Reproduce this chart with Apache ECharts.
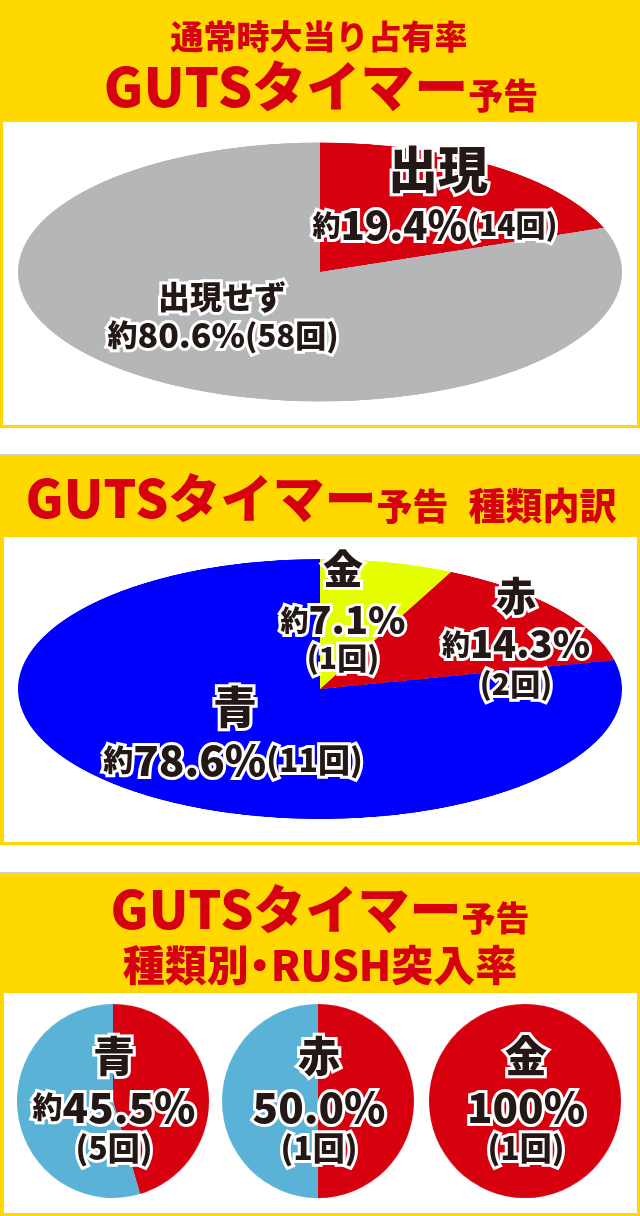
<!DOCTYPE html>
<html><head><meta charset="utf-8">
<script src="https://cdn.jsdelivr.net/npm/echarts@6/dist/echarts.min.js"></script>
<style>
html,body{margin:0;padding:0;background:#fff;}
#page{position:relative;width:640px;height:1216px;overflow:hidden;}
.layer{position:absolute;}
</style></head><body>
<div id="page">
  <div id="bg" class="layer" style="left:0;top:0;width:640px;height:1216px"></div>
  <div id="pies"></div>
  <div id="fg" class="layer" style="left:0;top:0;width:640px;height:1216px;pointer-events:none"></div>
</div>
<script>
// ---------- data ----------
const shareNames = ['出現', '出現せず'];
const shareCounts = [14, 58];
const sharePct = ['19.4', '80.6'];

const typeNames = ['金', '赤', '青'];
const typeCounts = [1, 2, 11];
const typePct = ['7.1', '14.3', '78.6'];

const rushNames = ['青', '赤', '金'];
const rushHits = [5, 1, 1];
const rushMisses = [6, 1, 0];
const rushPct = ['45.5', '50.0', '100'];
const rushApprox = [true, false, false];

const titleShare = ['通常時大当り占有率', 'GUTSタイマー', '予告'];
const titleType = ['GUTSタイマー', '予告', '種類内訳'];
const titleRush = ['GUTSタイマー', '予告', '種類別・RUSH突入率'];

// ---------- style ----------
const FF = '"Noto Sans CJK JP","Noto Sans CJK SC",sans-serif';
const RED = '#d7000f';
const YEL = '#ffd800';
const shareColors = [RED, '#b5b6b8'];
const typeColors = ['#e5ff00', RED, '#0000ff'];
const rushColors = [RED, '#5ab3d6'];

function tok(size, color, stroke) {
  const t = {fontSize: size, fontFamily: FF, fontWeight: 900, fill: color || '#231815'};
  if (stroke !== false) { t.stroke = '#fff'; t.lineWidth = 6; }
  return t;
}
function label(x, y, text, rich) {
  return {type: 'text', x: x, y: y, z: 10, silent: true,
    style: {text: text, rich: rich, align: 'center', verticalAlign: 'middle', fontFamily: FF, fontWeight: 900}};
}

// ---------- background panels + titles ----------
const bg = echarts.init(document.getElementById('bg'), null, {renderer: 'canvas'});
const rushSub = titleRush[2].split('・');
const bgGraphic = [
  {type: 'rect', shape: {x: 0, y: 0, width: 640, height: 428}, style: {fill: YEL}},
  {type: 'rect', shape: {x: 3, y: 122, width: 634, height: 303}, style: {fill: '#fff'}},
  {type: 'rect', shape: {x: 0, y: 455, width: 640, height: 390}, style: {fill: YEL}},
  {type: 'rect', shape: {x: 4, y: 537, width: 633, height: 305}, style: {fill: '#fff'}},
  {type: 'rect', shape: {x: 0, y: 454, width: 640, height: 1}, style: {fill: '#d0d0d0'}},
  {type: 'rect', shape: {x: 0, y: 873, width: 640, height: 343}, style: {fill: YEL}},
  {type: 'rect', shape: {x: 4, y: 993, width: 633, height: 220}, style: {fill: '#fff'}},
  {type: 'rect', shape: {x: 0, y: 872, width: 640, height: 1}, style: {fill: '#d0d0d0'}},
  label(319, 36, '{t|' + titleShare[0] + '}', {t: tok(33, RED, false)}),
  label(321, 86, '{a|' + titleShare[1] + '}{b|' + titleShare[2] + '}',
    {a: tok(54, RED, false), b: Object.assign(tok(35, RED, false), {verticalAlign: 'bottom'})}),
  label(321, 498, '{a|' + titleType[0] + '}{b|' + titleType[1] + '}{s|}{c|' + titleType[2] + '}',
    {a: tok(52, RED, false), b: Object.assign(tok(36, RED, false), {verticalAlign: 'bottom'}),
     s: Object.assign(tok(20, RED, false), {width: 20}), c: Object.assign(tok(37, RED, false), {verticalAlign: 'bottom'})}),
  label(320, 909, '{a|' + titleRush[0] + '}{b|' + titleRush[1] + '}',
    {a: tok(52, RED, false), b: Object.assign(tok(34, RED, false), {verticalAlign: 'bottom'})}),
  label(320, 965, '{t|' + rushSub[0] + '}{d|・}{t|' + rushSub[1] + '}',
    {t: tok(42, RED, false), d: Object.assign(tok(42, RED, false), {width: 22, align: 'center'})})
];
bg.setOption({animation: false, graphic: bgGraphic});

// ---------- pies ----------
function makePie(box, names, values, colors) {
  const d = document.createElement('div');
  d.className = 'layer';
  const s = 2 * box.rx;
  d.style.left = (box.cx - box.rx) + 'px';
  d.style.top = (box.cy - box.rx) + 'px';
  d.style.width = s + 'px';
  d.style.height = s + 'px';
  d.style.transformOrigin = '50% 50%';
  d.style.transform = 'scaleY(' + (box.ry / box.rx) + ')';
  document.getElementById('pies').appendChild(d);
  const c = echarts.init(d, null, {renderer: 'canvas'});
  c.setOption({
    animation: false,
    series: [{
      type: 'pie', radius: ['0%', '100%'], center: ['50%', '50%'],
      startAngle: 90, clockwise: true, silent: true, stillShowZeroSum: true,
      label: {show: false}, labelLine: {show: false}, emphasis: {disabled: true},
      itemStyle: {borderWidth: 0},
      data: values.map((v, i) => ({value: v, name: names[i], itemStyle: {color: colors[i]}}))
    }]
  });
}
makePie({cx: 320, cy: 271.5, rx: 302, ry: 129.5}, shareNames, shareCounts, shareColors);
makePie({cx: 320, cy: 689, rx: 302, ry: 130}, typeNames, typeCounts, typeColors);
const rushCx = [113, 318, 525];
rushNames.forEach((n, i) => {
  makePie({cx: rushCx[i], cy: 1101, rx: 96, ry: 97}, ['RUSH', 'その他'], [rushHits[i], rushMisses[i]], rushColors);
});

// ---------- labels ----------
const fg = echarts.init(document.getElementById('fg'), null, {renderer: 'canvas'});
const L = [];
// share pie
L.push(label(438, 169, '{t|' + shareNames[0] + '}', {t: tok(50)}));
L.push(label(435, 225, '{a|約}{b|' + sharePct[0] + '%}{c|(' + shareCounts[0] + '回)}',
  {a: tok(28), b: tok(40), c: tok(30)}));
L.push(label(222, 297, '{t|' + shareNames[1] + '}', {t: tok(32)}));
L.push(label(223, 335, '{a|約}{b|' + sharePct[1] + '%}{c|(' + shareCounts[1] + '回)}',
  {a: tok(30), b: tok(34), c: tok(31)}));
// type pie
const typeLab = [
  {x: 343, yn: 569, yp: 620, yc: 658},
  {x: 516, yn: 596, yp: 644, yc: 684}
];
typeLab.forEach((p, i) => {
  L.push(label(p.x, p.yn, '{t|' + typeNames[i] + '}', {t: tok(40)}));
  L.push(label(p.x, p.yp, '{a|約}{b|' + typePct[i] + '%}', {a: tok(28), b: tok(38)}));
  L.push(label(p.x, p.yc, '{c|(' + typeCounts[i] + '回)}', {c: tok(30)}));
});
L.push(label(235, 707, '{t|' + typeNames[2] + '}', {t: tok(44)}));
L.push(label(233, 760, '{a|約}{b|' + typePct[2] + '%}{c|(' + typeCounts[2] + '回)}',
  {a: tok(30), b: tok(42), c: tok(32)}));
// rush pies
rushNames.forEach((n, i) => {
  const x = rushCx[i] + 1;
  L.push(label(x, 1056, '{t|' + n + '}', {t: tok(42)}));
  L.push(label(x, 1107, (rushApprox[i] ? '{a|約}' : '') + '{b|' + rushPct[i] + '%}', {a: tok(30), b: tok(42)}));
  L.push(label(x, 1148, '{c|(' + rushHits[i] + '回)}', {c: tok(32)}));
});
fg.setOption({animation: false, graphic: L});
</script>
</body></html>
